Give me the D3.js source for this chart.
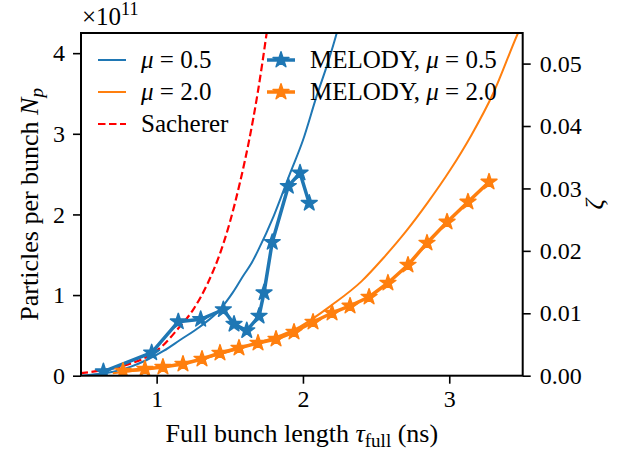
<!DOCTYPE html>
<html>
<head>
<meta charset="utf-8">
<script src="https://cdn.jsdelivr.net/npm/d3@7"></script>
<style>
  body { margin: 0; background: #fff; }
  svg { display: block; }
  text { font-family: "Liberation Serif", "DejaVu Serif", serif; fill: #000; }
</style>
</head>
<body>
<div id="container"></div>
<script>
// set the dimensions of the canvas/graph
var width = 622;
var height = 454;
var mLeft = 81, mRight = 522.7, mTop = 33, mBottom = 375.7;

//-----------------------------DATA------------------------------//
// bunch length (ns) and N_p (x 1e11)
var sacherT = [0.48, 0.60, 0.70, 0.82, 0.93, 1.04, 1.14, 1.25, 1.35, 1.43, 1.50, 1.57, 1.63, 1.69, 1.752, 1.80];
var sacherN = [0.03, 0.06, 0.09, 0.15, 0.23, 0.37, 0.57, 0.82, 1.15, 1.50, 1.90, 2.40, 2.90, 3.50, 4.25, 4.90];

var mu05T = [0.476, 0.60, 0.704, 0.82, 0.932, 1.05, 1.16, 1.296, 1.43, 1.52, 1.592, 1.65, 1.695, 1.80, 1.912, 2.00, 2.094, 2.17, 2.231, 2.28];
var mu05N = [0.0, 0.02, 0.05, 0.11, 0.195, 0.31, 0.443, 0.608, 0.815, 1.03, 1.24, 1.40, 1.56, 1.98, 2.51, 2.92, 3.47, 3.88, 4.25, 4.60];

var mu20T = [0.70, 0.85, 1.00, 1.20, 1.40, 1.60, 1.80, 1.98, 2.20, 2.40, 2.55, 2.70, 2.85, 3.006, 3.15, 3.30, 3.47, 3.52];
var mu20N = [0.03, 0.06, 0.10, 0.16, 0.25, 0.36, 0.47, 0.61, 0.88, 1.17, 1.46, 1.78, 2.14, 2.55, 2.98, 3.50, 4.25, 4.45];

var melody05T = [0.636, 0.966, 1.148, 1.301, 1.456, 1.529, 1.616, 1.700, 1.734, 1.790, 1.900, 1.980, 2.043];
var melody05N = [0.05, 0.285, 0.67, 0.70, 0.82, 0.64, 0.56, 0.74, 1.03, 1.655, 2.35, 2.515, 2.14];

var melody20T = [0.770, 0.920, 1.043, 1.180, 1.310, 1.433, 1.563, 1.693, 1.816, 1.939, 2.069, 2.199, 2.322, 2.452, 2.581, 2.718, 2.848, 2.985, 3.128, 3.272];
var melody20N = [0.058, 0.083, 0.108, 0.145, 0.207, 0.282, 0.344, 0.406, 0.455, 0.542, 0.666, 0.778, 0.865, 0.976, 1.150, 1.373, 1.646, 1.907, 2.155, 2.403];

var xTicks = [1, 2, 3];
var yTicks = [0, 1, 2, 3, 4];
var zetaTicks = [0, 0.01, 0.02, 0.03, 0.04, 0.05];

var blue = "#1f77b4", orange = "#ff7f0e";

function pairs(ts, ns) {
    return ts.map(function (t, i) { return { t: t, n: ns[i] }; });
}

var svg = d3.select("div#container").append("svg")
    .attr("width", width)
    .attr("height", height);

//----------------------------SCALES-----------------------------//
var xScale = d3.scaleLinear().domain([0.483, 3.502]).range([mLeft, mRight]);
var yScale = d3.scaleLinear().domain([0, 4.25]).range([mBottom, mTop]);
var zScale = d3.scaleLinear().domain([0, 0.0549]).range([mBottom, mTop]);

svg.append("clipPath").attr("id", "clip")
    .append("rect")
    .attr("x", mLeft).attr("y", mTop)
    .attr("width", mRight - mLeft).attr("height", mBottom - mTop);

var line = d3.line()
    .x(function (d) { return xScale(d.t); })
    .y(function (d) { return yScale(d.n); });
var smooth = d3.line()
    .curve(d3.curveMonotoneX)
    .x(function (d) { return xScale(d.t); })
    .y(function (d) { return yScale(d.n); });

var star = d3.symbol().type(d3.symbolStar).size(78);

//----------------------------LINES------------------------------//
var plot = svg.append("g").attr("clip-path", "url(#clip)");

plot.append("path")
    .attr("d", smooth(pairs(mu05T, mu05N)))
    .attr("fill", "none").attr("stroke", blue).attr("stroke-width", 2);

plot.append("path")
    .attr("d", smooth(pairs(mu20T, mu20N)))
    .attr("fill", "none").attr("stroke", orange).attr("stroke-width", 2);

plot.append("path")
    .attr("d", smooth(pairs(sacherT, sacherN)))
    .attr("fill", "none").attr("stroke", "#ff0000").attr("stroke-width", 2.2)
    .attr("stroke-dasharray", "7.5,3.5");

[[melody05T, melody05N, blue], [melody20T, melody20N, orange]].forEach(function (s) {
    var pts = pairs(s[0], s[1]);
    plot.append("path")
        .attr("d", line(pts))
        .attr("fill", "none").attr("stroke", s[2]).attr("stroke-width", 3.5)
        .attr("stroke-linejoin", "round");
    plot.append("g").selectAll("path")
        .data(pts)
        .enter().append("path")
        .attr("d", star)
        .attr("transform", function (d) { return "translate(" + xScale(d.t) + "," + yScale(d.n) + ")"; })
        .attr("fill", s[2]).attr("stroke", s[2]).attr("stroke-width", 1.5)
        .attr("stroke-linejoin", "round");
});

//-----------------------------AXES------------------------------//
function styleAxis(g) {
    g.select(".domain").remove();
    g.selectAll(".tick line").attr("stroke", "#000").attr("stroke-width", 1.6);
    g.selectAll(".tick text").style("font-size", "24px").style("font-family", "Liberation Serif, serif");
}

svg.append("g")
    .attr("transform", "translate(0," + mBottom + ")")
    .call(d3.axisBottom(xScale).tickValues(xTicks).tickSize(8).tickPadding(6).tickFormat(d3.format("d")))
    .call(styleAxis);

svg.append("g")
    .attr("transform", "translate(" + mLeft + ",0)")
    .call(d3.axisLeft(yScale).tickValues(yTicks).tickSize(8).tickPadding(8).tickFormat(d3.format("d")))
    .call(styleAxis);

svg.append("g")
    .attr("transform", "translate(" + mRight + ",0)")
    .call(d3.axisRight(zScale).tickValues(zetaTicks).tickSize(8).tickPadding(9).tickFormat(d3.format(".2f")))
    .call(styleAxis);

svg.append("rect")
    .attr("x", mLeft).attr("y", mTop)
    .attr("width", mRight - mLeft).attr("height", mBottom - mTop)
    .attr("fill", "none").attr("stroke", "#000").attr("stroke-width", 2);

// axis labels
var xl = svg.append("text")
    .attr("x", (mLeft + mRight) / 2).attr("y", 441.5)
    .style("font-size", "26px").style("text-anchor", "middle");
xl.append("tspan").text("Full bunch length ");
xl.append("tspan").style("font-style", "italic").text("τ");
xl.append("tspan").attr("dy", 5).style("font-size", "19px").text("full");
xl.append("tspan").attr("dy", -5).text(" (ns)");

var yl = svg.append("text")
    .attr("transform", "translate(38," + ((mTop + mBottom) / 2) + ") rotate(-90)")
    .style("font-size", "26px").style("text-anchor", "middle");
yl.append("tspan").text("Particles per bunch ");
yl.append("tspan").style("font-style", "italic").text("N");
yl.append("tspan").attr("dy", 5).style("font-size", "19px").style("font-style", "italic").text("p");

svg.append("text")
    .attr("transform", "translate(603," + ((mTop + mBottom) / 2) + ") rotate(-90)")
    .style("font-size", "26px").style("font-style", "italic").style("text-anchor", "middle")
    .text("ζ");

var mult = svg.append("text")
    .attr("x", 82).attr("y", 25)
    .style("font-size", "25px");
mult.append("tspan").text("×10");
mult.append("tspan").attr("dy", -10).style("font-size", "18px").text("11");

//----------------------------LEGEND------------------------------//
function muLabel(g, x, y, prefix, value) {
    var t = g.append("text").attr("x", x).attr("y", y + 8).style("font-size", "25px");
    if (prefix) t.append("tspan").text(prefix);
    t.append("tspan").style("font-style", "italic").text("μ");
    t.append("tspan").text(" = " + value);
}

var legend = svg.append("g");
var rows = [60, 92, 124];

legend.append("line").attr("x1", 98).attr("x2", 126).attr("y1", rows[0]).attr("y2", rows[0])
    .attr("stroke", blue).attr("stroke-width", 2);
muLabel(legend, 141, rows[0], "", "0.5");
legend.append("line").attr("x1", 98).attr("x2", 126).attr("y1", rows[1]).attr("y2", rows[1])
    .attr("stroke", orange).attr("stroke-width", 2);
muLabel(legend, 141, rows[1], "", "2.0");
legend.append("line").attr("x1", 98).attr("x2", 126).attr("y1", rows[2]).attr("y2", rows[2])
    .attr("stroke", "#ff0000").attr("stroke-width", 2.2).attr("stroke-dasharray", "7.5,3.5");
legend.append("text").attr("x", 141).attr("y", rows[2] + 8).style("font-size", "25px").text("Sacherer");

[[blue, "0.5"], [orange, "2.0"]].forEach(function (s, i) {
    legend.append("line").attr("x1", 267).attr("x2", 295).attr("y1", rows[i]).attr("y2", rows[i])
        .attr("stroke", s[0]).attr("stroke-width", 3.5);
    legend.append("path").attr("d", star)
        .attr("transform", "translate(281," + rows[i] + ")")
        .attr("fill", s[0]).attr("stroke", s[0]).attr("stroke-width", 1.5).attr("stroke-linejoin", "round");
    muLabel(legend, 310, rows[i], "MELODY, ", s[1]);
});
</script>
</body>
</html>
